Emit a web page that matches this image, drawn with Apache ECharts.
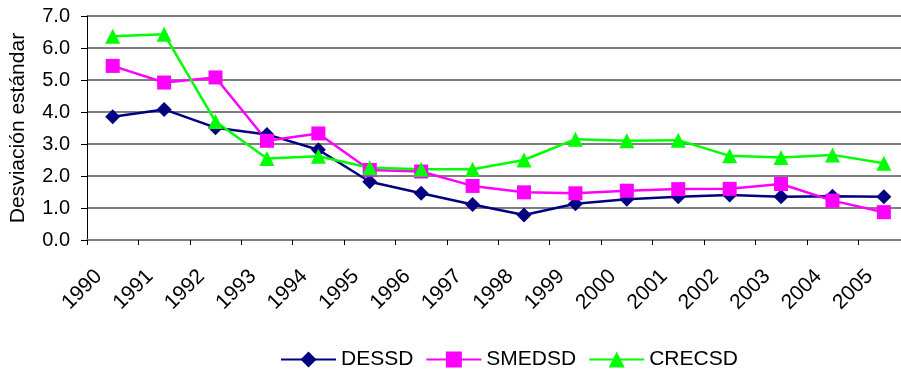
<!DOCTYPE html>
<html>
<head>
<meta charset="utf-8">
<script src="https://cdn.jsdelivr.net/npm/echarts@6/dist/echarts.min.js"></script>
<style>
  html, body { margin: 0; padding: 0; background: #fff; }
  #chart { width: 901px; height: 373px; }
</style>
</head>
<body>
<div id="chart"></div>
<script>
// Years on the category axis
const years = ['1990','1991','1992','1993','1994','1995','1996','1997',
               '1998','1999','2000','2001','2002','2003','2004','2005'];

// Standard deviation series
const dessd  = [3.85, 4.08, 3.51, 3.30, 2.82, 1.82, 1.46, 1.11, 0.78, 1.13, 1.27, 1.35, 1.41, 1.35, 1.37, 1.35];
const smedsd = [5.44, 4.92, 5.08, 3.10, 3.33, 2.19, 2.14, 1.69, 1.49, 1.46, 1.54, 1.59, 1.60, 1.75, 1.23, 0.87];
const crecsd = [6.37, 6.43, 3.70, 2.55, 2.62, 2.26, 2.21, 2.21, 2.50, 3.15, 3.10, 3.12, 2.63, 2.58, 2.66, 2.40];

// Y axis range
const yMin = 0, yMax = 7, yStep = 1;

const FONT = '"Liberation Sans", Arial, sans-serif';

const chart = echarts.init(document.getElementById('chart'), null, { renderer: 'canvas' });

function lineSeries(name, data, color, symbol, size) {
  return {
    name, type: 'line', data,
    symbol, symbolSize: size,
    lineStyle: { color, width: 2.5 },
    itemStyle: { color, borderWidth: 0 },
    emphasis: { disabled: true },
    animation: false
  };
}

chart.setOption({
  animation: false,
  textStyle: { fontFamily: FONT, color: '#000' },
  grid: { left: 87, top: 16, width: 822.6, height: 224, containLabel: false, outerBoundsMode: 'none' },
  legend: {
    left: 275, top: 344,
    itemWidth: 55, itemHeight: 20, itemGap: 12,
    textStyle: { fontFamily: FONT, fontSize: 21, color: '#000' },
    data: ['DESSD', 'SMEDSD', 'CRECSD']
  },
  xAxis: {
    type: 'category',
    data: years,
    boundaryGap: true,
    axisLine: { lineStyle: { color: '#808080', width: 2 } },
    axisTick: { show: true, length: 5, lineStyle: { color: '#000', width: 1 } },
    axisLabel: {
      rotate: 45, interval: 0, margin: 19,
      fontFamily: FONT, fontSize: 21, color: '#000',
      padding: [0, 20, 0, 0]
    },
    splitLine: { show: false }
  },
  yAxis: {
    type: 'value',
    min: yMin, max: yMax, interval: yStep,
    name: 'Desviación estándar',
    nameLocation: 'middle', nameGap: 58,
    nameTextStyle: { fontFamily: FONT, fontSize: 21, color: '#000' },
    axisLine: { show: true, lineStyle: { color: '#000', width: 1 } },
    axisTick: { show: true, length: 6, lineStyle: { color: '#000' } },
    axisLabel: {
      margin: 17, fontFamily: FONT, fontSize: 20, color: '#000',
      formatter: v => v.toFixed(1)
    },
    splitLine: { show: true, lineStyle: { color: '#555', width: 1.5 } }
  },
  series: [
    lineSeries('DESSD', dessd, '#000080', 'diamond', 15),
    lineSeries('SMEDSD', smedsd, '#FF00FF', 'rect', 14),
    lineSeries('CRECSD', crecsd, '#00FF00', 'triangle', 15)
  ]
});
</script>
</body>
</html>
